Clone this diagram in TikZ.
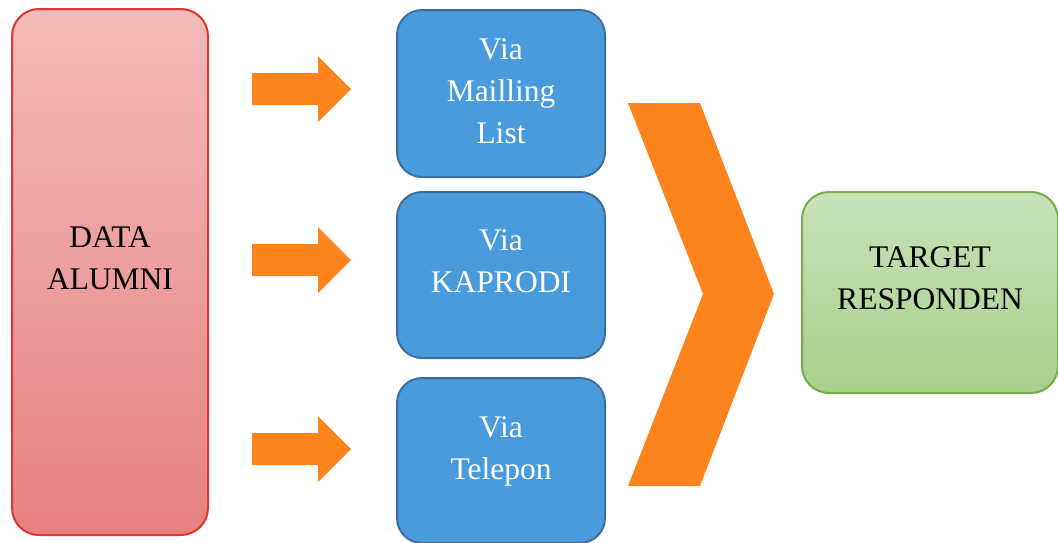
\documentclass[tikz,border=0pt]{standalone}
\usepackage{fontspec}
\setmainfont{Liberation Serif}

\definecolor{alumnitop}{HTML}{F3BBBB}
\definecolor{alumnibot}{HTML}{E6817F}
\definecolor{alumniline}{HTML}{E0352F}
\definecolor{viafill}{HTML}{4A9BDC}
\definecolor{vialine}{HTML}{3A6F9F}
\definecolor{targettop}{HTML}{C8E2B8}
\definecolor{targetbot}{HTML}{A8D08C}
\definecolor{targetline}{HTML}{72AE48}
\definecolor{panah}{HTML}{FD841C}

\begin{document}
\begin{tikzpicture}[x=1pt, y=-1pt,
    box/.style={rounded corners=27pt, line width=2pt, inner sep=0pt},
    boxtext/.style={align=center, inner sep=0pt, font=\fontsize{31.5}{42}\selectfont}]
\useasboundingbox (0,0) rectangle (1058,542);

% data alumni
\node[box, draw=alumniline, top color=alumnitop, bottom color=alumnibot,
      minimum width=196pt, minimum height=526pt] (alumni) at (110,272) {};
\node[boxtext] (alumnitext) at (110,258.5) {DATA\\ALUMNI};

% arrows
\foreach \y in {89,260,449}
  \fill[panah] (252,\y-16) -- (318,\y-16) -- (318,\y-33) -- (351,\y)
               -- (318,\y+33) -- (318,\y+16) -- (252,\y+16) -- cycle;

% via boxes
\node[box, draw=vialine, fill=viafill, rounded corners=25pt,
      minimum width=208pt, minimum height=167pt] (mailing) at (501,93.5) {};
\node[box, draw=vialine, fill=viafill, rounded corners=25pt,
      minimum width=208pt, minimum height=166pt] (kaprodi) at (501,275) {};
\node[box, draw=vialine, fill=viafill, rounded corners=25pt,
      minimum width=208pt, minimum height=165pt] (telepon) at (501,460.5) {};

\node[boxtext, text=white] (mailingtext) at (501,91) {Via\\Mailling\\List}; %label
\node[boxtext, text=white] (kaprodetext) at (501,261) {Via\\KAPRODI}; %label
\node[boxtext, text=white] (telepontext) at (501,451) {Via\\Telepon}; %label

% chevron
\fill[panah] (628,103) -- (700,103) -- (774,294) -- (700,486)
             -- (628,486) -- (703,294) -- cycle;

% target
\node[box, draw=targetline, top color=targettop, bottom color=targetbot,
      minimum width=256pt, minimum height=201pt] (target) at (930,292.5) {};
\node[boxtext] (targettext) at (930,278.5) {TARGET\\RESPONDEN};

\end{tikzpicture}
\end{document}
